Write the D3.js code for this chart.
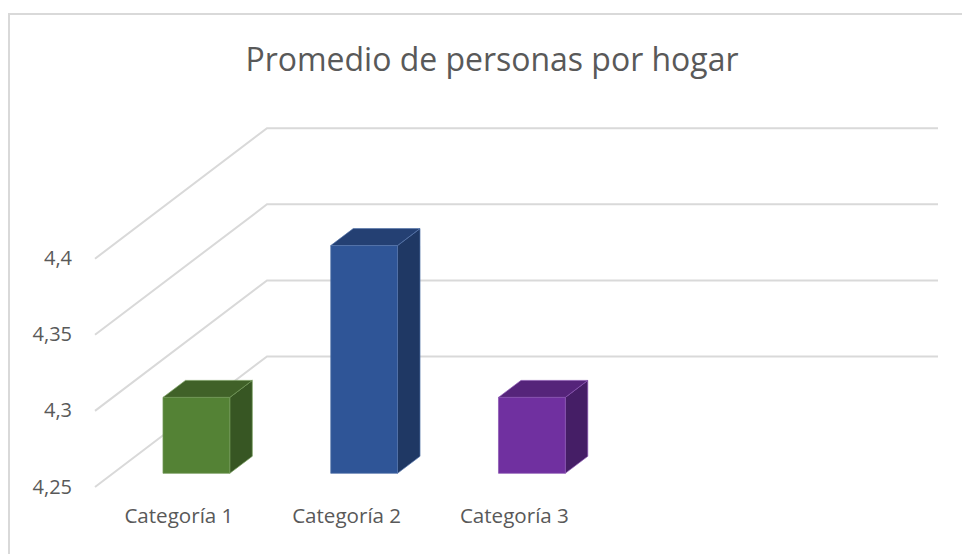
<!DOCTYPE html>
<html><head><meta charset="utf-8">
<script src="https://cdn.jsdelivr.net/npm/d3@7/dist/d3.min.js"></script>
<style>html,body{margin:0;padding:0;background:#fff}svg{display:block}text{font-family:"Open Sans",sans-serif;fill:#595959}</style>
</head><body><svg id="c" width="962" height="554"></svg>
<script>
const chartTitle = "Promedio de personas por hogar";
const categories = ["Categoría 1","Categoría 2","Categoría 3"];
const values = [4.3,4.4,4.3];
const yTicks = [4.25,4.3,4.35,4.4];
const frontColors = ["#548235","#2f5597","#7030a0"];
const topColors = ["#406128","#244073","#55247a"];
const sideColors = ["#375623","#1f3864","#451e66"];

const svg = d3.select("#c");
const depthX = 172, depthY = -130.5;
const barDepthX = 22.5, barDepthY = -17;

svg.append("path").attr("d","M9,554V14H962").attr("fill","none").attr("stroke","#d9d9d9").attr("stroke-width",2);

const y = d3.scaleLinear().domain([4.25,4.4]).range([487,258.7]);
const x = d3.scaleBand().domain([...categories,""]).range([95,766]).paddingInner(0).paddingOuter(0);
const yBar = d3.scaleLinear().domain([4.25,4.4]).range([473.3,245.6]);
const comma = d3.format(",.2~f");

svg.append("text").attr("x",492).attr("y",71).attr("text-anchor","middle")
  .attr("font-size",33).attr("textLength",493).attr("lengthAdjust","spacingAndGlyphs").text(chartTitle);

yTicks.forEach(t=>{
  const y0 = y(t);
  svg.append("path")
    .attr("d",d3.line()([[x.range()[0],y0],[x.range()[0]+depthX,y0+depthY],[x.range()[1]+depthX,y0+depthY]]))
    .attr("fill","none").attr("stroke","#d9d9d9").attr("stroke-width",2);
  svg.append("text").attr("x",72).attr("y",y0+6.5).attr("text-anchor","end").attr("font-size",20)
    .text(comma(t).replace(".",","));
});

const barW = 66.8;
categories.forEach((c,i)=>{
  const cx = x(c)+x.bandwidth()/2+17.5;
  const l = cx-barW/2, r = cx+barW/2, t = yBar(values[i]), b = yBar.range()[0];
  const line = d3.line();
  const edge = d3.interpolateRgb(frontColors[i],"#ffffff")(0.18);
  const g = svg.append("g").attr("stroke-width",0.7).attr("stroke-linejoin","round");
  g.append("path").attr("d",line([[r,t],[r+barDepthX,t+barDepthY],[r+barDepthX,b+barDepthY],[r,b]])+"Z")
    .attr("fill",sideColors[i]).attr("stroke",edge);
  g.append("path").attr("d",line([[l,t],[l+barDepthX,t+barDepthY],[r+barDepthX,t+barDepthY],[r,t]])+"Z")
    .attr("fill",topColors[i]).attr("stroke",edge);
  g.append("rect").attr("x",l).attr("y",t).attr("width",barW).attr("height",b-t)
    .attr("fill",frontColors[i]).attr("stroke",edge);
  svg.append("text").attr("x",x(c)+x.bandwidth()/2).attr("y",523).attr("text-anchor","middle")
    .attr("font-size",19.5).attr("textLength",109).attr("lengthAdjust","spacingAndGlyphs").text(c);
});
</script></body></html>
